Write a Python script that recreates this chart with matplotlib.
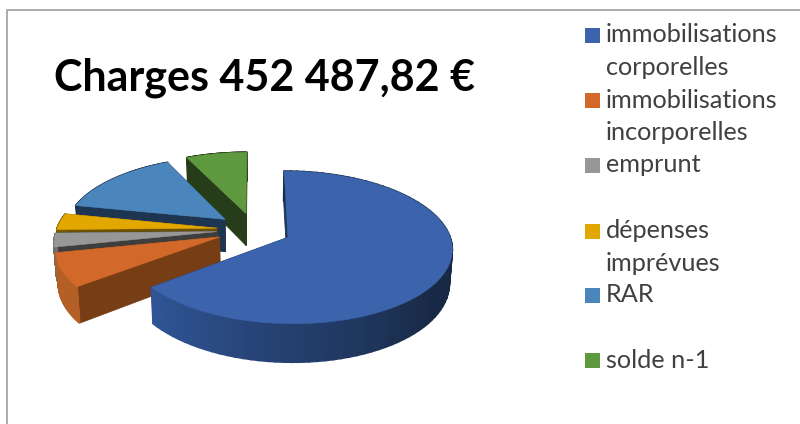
import numpy as np
import matplotlib
matplotlib.use("Agg")
import matplotlib.pyplot as plt
from matplotlib.patches import Rectangle

# Data, clockwise from the top starts with the big slice
labels = ["immobilisations\ncorporelles", "immobilisations\nincorporelles", "emprunt\n ",
          "dépenses\nimprévues", "RAR\n ", "solde n-1"]
values = [292000, 32500, 13500, 16000, 66500, 32000]
title = "Charges 452 487,82 €"

# Colours of top face, cut walls
top_colors = ["#3B64AD", "#D2692A", "#979797", "#E2A800", "#4A86BC", "#5F993F"]
wall_colors = ["#1E3558", "#773D15", "#3E3E3E", "#6B5000", "#1D3550", "#273C18"]
# outer wall colours: near the start of the slice, near the end
rim_start = ["#182945", "#B45F25", "#6E6E6E", "#7A5B00", "#1D3550", "#273C18"]
rim_end = ["#305596", "#B45F25", "#6E6E6E", "#7A5B00", "#1D3550", "#273C18"]

# Projection of the tilted pie, in pixels
CX, CY = 254, 229.7
A, B, P = 160, 73, 0.13
EXPLODE = 0.234
DEPTH = 33


def project(x, y, down=False):
    s = 1 / (1 + P * y)
    px = CX + A * x * s
    py = CY - B * y * s
    if down:
        px = CX + (px - CX) * 0.985
        py = py + DEPTH * s
    return px, py


def slice_points(a0, a1):
    # angles in radians, clockwise from the top
    mid = (a0 + a1) / 2
    ox, oy = EXPLODE * np.sin(mid), EXPLODE * np.cos(mid)
    t = np.linspace(a0, a1, 90)
    return ox, oy, ox + np.sin(t), oy + np.cos(t)


def quad(ax, p0, p1, p2, p3, color, z, lw=0.6):
    ax.fill([p0[0], p1[0], p2[0], p3[0]], [p0[1], p1[1], p2[1], p3[1]],
            fc=color, ec=color, lw=lw, zorder=z)


fig = plt.figure(figsize=(8, 4.24), dpi=100)
ax = fig.add_axes([0, 0, 1, 1])
ax.set_xlim(0, 800)
ax.set_ylim(424, 0)
ax.axis("off")

# chart frame, only top and left are in the crop
ax.plot([6.5, 6.5, 800], [424, 9.5, 9.5], color="#A6A6A6", lw=1.3, solid_capstyle="butt")

fractions = np.array(values) / sum(values)
edges = np.concatenate([[0], np.cumsum(fractions)]) * 2 * np.pi

# back slices first, the big one goes last
order = [5, 4, 3, 2, 1, 0]
z = 2
for i in order:
    ox, oy, xs, ys = slice_points(edges[i], edges[i + 1])
    apex = project(ox, oy)
    apex_d = project(ox, oy, True)
    # the two cut walls
    for k in (-1, 0):
        quad(ax, apex, project(xs[k], ys[k]), project(xs[k], ys[k], True), apex_d, wall_colors[i], z)
    # rim, shaded along the arc, dark until the bottom then lighter
    c0 = np.array(matplotlib.colors.to_rgb(rim_start[i]))
    c1 = np.array(matplotlib.colors.to_rgb(rim_end[i]))
    for j in range(len(xs) - 1):
        f = np.clip((j / (len(xs) - 2) - 0.55) / 0.45, 0, 1)
        col = c0 + (c1 - c0) * f
        quad(ax, project(xs[j], ys[j]), project(xs[j + 1], ys[j + 1]),
             project(xs[j + 1], ys[j + 1], True), project(xs[j], ys[j], True), col, z, lw=1.2)
    # top face
    px, py = project(np.r_[ox, xs], np.r_[oy, ys])
    ax.fill(px, py, fc=top_colors[i], ec=top_colors[i], lw=0.4, zorder=z + 0.5)
    z += 1

ax.text(54, 78, title, fontsize=31, fontweight="bold", family="Lato", color="black",
        va="center", ha="left")

# legend
leg_y = [35, 100, 165, 231, 295, 360]
for lab, col, y in zip(labels, top_colors, leg_y):
    ax.add_patch(Rectangle((585, y - 7), 15, 15, fc=col, ec="none"))
    for n, line in enumerate(lab.split("\n")):
        ax.text(606, y + n * 32.5, line, fontsize=18.2, family="Lato", color="#404040",
                va="center", ha="left")

fig.savefig("out.png", dpi=100)
